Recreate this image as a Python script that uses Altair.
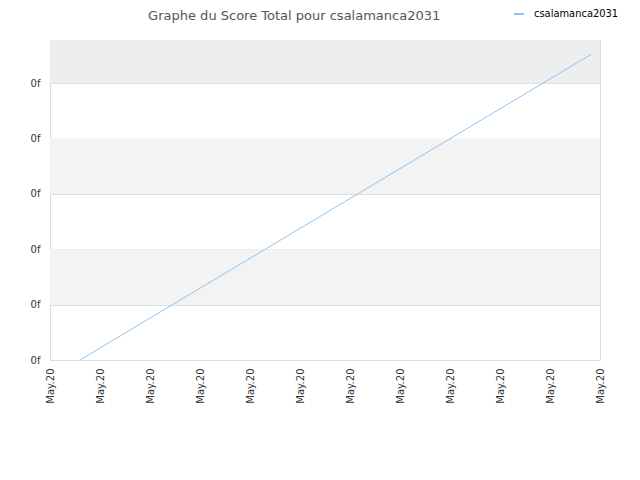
import altair as alt
import pandas as pd

# data
series_name = "csalamanca2031"
line_x = [0.6, 10.82]
line_y = [0.0, 5.52]
x_ticks = list(range(0, 12))
x_labels = ["May.20"] * 12
y_ticks = [0, 1, 2, 3, 4, 5]
band_lo = [1, 3, 5]
band_hi = [2, 4, 5.78]
band_col = ["#f3f3f3", "#f3f3f3", "#eeeeee"]

Y_MAX = 5.78
X_MAX = 11

line_df = pd.DataFrame({"x": line_x, "y": line_y, "s": [series_name] * len(line_x)})
band_df = pd.DataFrame({"lo": band_lo, "hi": band_hi, "c": band_col})

label_expr = "'May.20'"

xscale = alt.Scale(domain=[0, X_MAX], nice=False, zero=False)
yscale = alt.Scale(domain=[0, Y_MAX], nice=False, zero=False)

bands = alt.Chart(band_df).mark_rect().encode(
    x=alt.value(0),
    x2=alt.value(550),
    y=alt.Y("lo:Q", scale=yscale,
            axis=alt.Axis(values=y_ticks, labelExpr="'0f'", title=None, grid=True,
                          gridColor="#dddddd", domain=False, ticks=False,
                          labelPadding=10, labelFontSize=10, labelColor="#333333",
                          labelFont="DejaVu Sans")),
    y2="hi:Q",
    color=alt.Color("c:N", scale=None),
)

line = alt.Chart(line_df).mark_line(strokeWidth=1).encode(
    x=alt.X("x:Q", scale=xscale,
            axis=alt.Axis(values=x_ticks, labelExpr=label_expr, title=None, grid=False,
                          domain=False, ticks=False, labelAngle=-90, labelPadding=8,
                          labelFontSize=10, labelColor="#333333", labelFont="DejaVu Sans")),
    y=alt.Y("y:Q", scale=yscale),
    color=alt.Color("s:N", scale=alt.Scale(range=["#90c3f5"]),
                    legend=alt.Legend(title=None, orient="none", legendX=463, legendY=-32,
                                      symbolType="stroke", symbolStrokeWidth=2, symbolSize=100,
                                      labelOffset=9,
                                      labelFontSize=11, labelColor="#000000",
                                      labelFont="DejaVu Sans Condensed")),
)

chart = alt.layer(bands, line).properties(
    width=550,
    height=320,
    title=alt.TitleParams("Graphe du Score Total pour " + series_name, fontSize=13,
                          fontWeight="normal", color="#555555", font="DejaVu Sans",
                          anchor="start", dx=118, offset=-15),
    autosize=alt.AutoSizeParams(type="none"),
    padding={"left": 42, "top": 32, "right": 24, "bottom": 100},
).configure_view(stroke="#dddddd", strokeWidth=1)

chart.save("out.html", embed_options={"renderer": "svg", "actions": False})
